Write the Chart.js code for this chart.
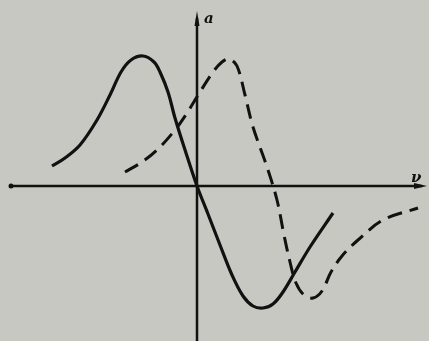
<!DOCTYPE html>
<html>
<head>
<meta charset="UTF-8" />
<title>a - v curves</title>
<style>
html, body { margin: 0; padding: 0; background: #c8c8c2; }
#wrap { width: 429px; height: 341px; }
</style>
</head>
<body>
<div id="wrap"><canvas id="chart1" width="429" height="341"></canvas></div>
<script src="https://cdn.jsdelivr.net/npm/chart.js@4/dist/chart.umd.min.js"></script>
<script>
// solid curve (x = v, y = a), arbitrary units, origin at the axes crossing
var solidX = [-7.25,-6.6,-5.85,-5.0,-4.35,-3.8,-3.3,-2.7,-2.15,-1.85,-1.45,-1.1,-0.55,0,0.55,1.15,1.75,2.3,2.8,3.3,3.8,4.3,4.9,5.65,6.8];
var solidY = [1.0,1.4,2.05,3.3,4.55,5.7,6.3,6.5,6.2,5.7,4.7,3.4,1.65,0,-1.4,-2.95,-4.45,-5.5,-6.0,-6.1,-5.9,-5.3,-4.3,-3.05,-1.35];
// dashed curve
var dashX = [-3.6,-2.75,-2.0,-1.1,-0.5,0.15,0.8,1.25,1.6,2.0,2.4,2.8,3.5,4.0,4.35,4.65,4.95,5.35,5.8,6.25,6.7,7.25,8.05,9.3,11.05];
var dashY = [0.7,1.2,1.8,2.8,3.65,4.7,5.7,6.2,6.35,6.0,4.55,2.95,0.95,-0.7,-2.45,-3.8,-4.85,-5.45,-5.6,-5.25,-4.3,-3.5,-2.7,-1.7,-1.1];
var yLabel = "a";
var xLabel = "ν";

function pts(xs, ys) {
  var out = [];
  for (var i = 0; i < xs.length; i++) out.push({x: xs[i], y: ys[i]});
  return out;
}

var axesPlugin = {
  id: 'axes',
  beforeDatasetsDraw: function(chart) {
    var ctx = chart.ctx;
    var sx = chart.scales.x, sy = chart.scales.y;
    var x0 = sx.getPixelForValue(0), y0 = sy.getPixelForValue(0);
    ctx.save();
    ctx.strokeStyle = '#111';
    ctx.fillStyle = '#111';
    // v axis
    ctx.lineWidth = 2.5;
    ctx.beginPath();
    ctx.moveTo(10, y0); ctx.lineTo(422, y0);
    ctx.stroke();
    ctx.beginPath();
    ctx.moveTo(427, y0); ctx.lineTo(414, y0 - 3); ctx.lineTo(414, y0 + 3); ctx.closePath();
    ctx.fill();
    ctx.beginPath();
    ctx.arc(11, y0, 2.5, 0, Math.PI * 2);
    ctx.fill();
    // a axis
    ctx.beginPath();
    ctx.moveTo(x0, 341); ctx.lineTo(x0, 18);
    ctx.stroke();
    ctx.beginPath();
    ctx.moveTo(x0, 11); ctx.lineTo(x0 - 2.5, 26); ctx.lineTo(x0 + 2.5, 26); ctx.closePath();
    ctx.fill();
    // labels
    ctx.font = 'bold italic 15px "DejaVu Serif"';
    ctx.textBaseline = 'middle';
    ctx.fillText(yLabel, x0 + 7, 19);
    ctx.fillText(xLabel, 411, y0 - 8);
    ctx.restore();
  }
};

new Chart(document.getElementById('chart1'), {
  type: 'scatter',
  data: {
    datasets: [{
      data: pts(solidX, solidY),
      showLine: true,
      borderColor: '#111',
      borderWidth: 3.2,
      pointRadius: 0,
      tension: 0.35,
      fill: false
    }, {
      data: pts(dashX, dashY),
      showLine: true,
      borderColor: '#111',
      borderWidth: 3,
      borderDash: [15, 8],
      pointRadius: 0,
      tension: 0.35,
      fill: false
    }]
  },
  options: {
    responsive: false,
    animation: false,
    layout: { padding: 0 },
    plugins: { legend: { display: false }, tooltip: { enabled: false } },
    scales: {
      x: { type: 'linear', display: false, min: -9.85, max: 11.6 },
      y: { type: 'linear', display: false, min: -7.75, max: 9.3 }
    }
  },
  plugins: [axesPlugin]
});
</script>
</body>
</html>
